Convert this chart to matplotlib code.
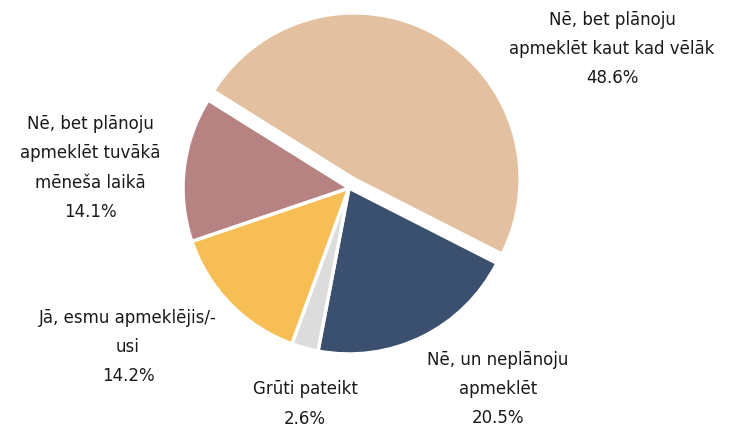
import matplotlib
matplotlib.use("Agg")
import matplotlib.pyplot as plt

categories = [
    "Nē, bet plānoju\napmeklēt kaut kad vēlāk",
    "Nē, un neplānoju\napmeklēt",
    "Grūti pateikt",
    "Jā, esmu apmeklējis/-\nusi",
    "Nē, bet plānoju\napmeklēt tuvākā\nmēneša laikā",
]
values = [48.6, 20.5, 2.6, 14.2, 14.1]
colors = ["#E2C0A0", "#3A506E", "#DCDCDC", "#F6BE55", "#B68282"]
explode_frac = [0.063, 0, 0, 0, 0]

# label centres in pixel coordinates (x, y from top)
label_pos = [(612, 49), (498, 389), (305, 404), (128, 347), (90, 168)]

plt.rcParams['font.family'] = ['DejaVu Sans']

W, H = 731, 430
fig = plt.figure(figsize=(W / 100, H / 100), dpi=100)
ax = fig.add_axes([0, 0, 1, 1])

cx, cy, r = 349, H - 188, 166
ax.pie(values, colors=colors, explode=[e * r for e in explode_frac],
       startangle=148, counterclock=False, center=(cx, cy), radius=r,
       wedgeprops=dict(edgecolor="white", linewidth=2.5))
ax.set_xlim(0, W)
ax.set_ylim(0, H)
ax.axis('off')

for cat, val, (lx, ly) in zip(categories, values, label_pos):
    ax.text(lx, H - ly, f"{cat}\n{val:.1f}%", ha="center", va="center",
            multialignment="center", fontsize=12, linespacing=1.8,
            color="#1a1a1a")

fig.savefig("out.png", dpi=100)
